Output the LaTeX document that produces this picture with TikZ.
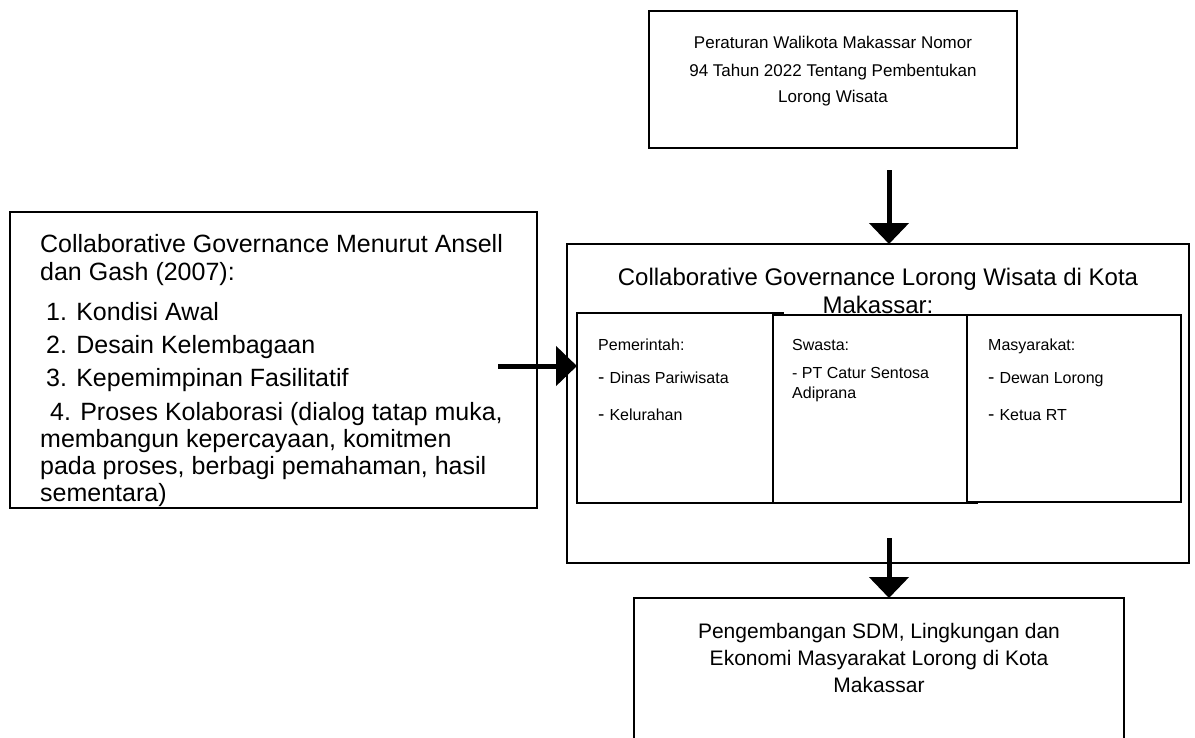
\documentclass[tikz,border=0pt]{standalone}
\usepackage{fontspec}
\setmainfont{Liberation Sans}
\usetikzlibrary{arrows.meta}
\newcommand{\bigdash}{{\fontsize{19}{19}\selectfont -}\hspace{5pt}}
\begin{document}
\begin{tikzpicture}[x=1pt,y=-1pt,
  box/.style={draw,line width=1.6pt,fill=white,inner sep=0pt,outer sep=0pt,anchor=north west},
  big/.style={font=\fontsize{25}{28}\selectfont,inner sep=0pt,anchor=base west},
  bigc/.style={font=\fontsize{24}{28}\selectfont,inner sep=0pt,anchor=base},
  topt/.style={font=\fontsize{17}{20}\selectfont,inner sep=0pt,anchor=base},
  bott/.style={font=\fontsize{21}{24}\selectfont,inner sep=0pt,anchor=base},
  small/.style={font=\fontsize{16}{19}\selectfont,inner sep=0pt,anchor=base west},
  arr/.style={line width=5pt,-{Triangle[length=21pt,width=39pt]}}]
\clip (0,0) rectangle (1195,737);
\fill[white] (0,0) rectangle (1195,737);
% top box
\node[box,minimum width=368pt,minimum height=137pt] (top) at (649,11) {};
\node[topt] (t1) at (833,48) {Peraturan Walikota Makassar Nomor};
\node[topt] (t2) at (833,76) {94 Tahun 2022 Tentang Pembentukan};
\node[topt] (t3) at (833,102) {Lorong Wisata};
% left box
\node[box,minimum width=527pt,minimum height=296pt] (left) at (10,212) {};
\node[big] (l1) at (40,252) {Collaborative Governance Menurut Ansell};
\node[big] (l2) at (40,280) {dan Gash (2007):};
\node[big] (l3) at (46,320) {1. Kondisi Awal};
\node[big] (l4) at (46,353) {2. Desain Kelembagaan};
\node[big] (l5) at (46,386) {3. Kepemimpinan Fasilitatif};
\node[big] (l6) at (50,420) {4. Proses Kolaborasi (dialog tatap muka,};
\node[big] (l7) at (40,447) {membangun kepercayaan, komitmen};
\node[big] (l8) at (40,474) {pada proses, berbagi pemahaman, hasil};
\node[big] (l9) at (40,501) {sementara)};
% middle box
\node[box,minimum width=622pt,minimum height=319pt] (mid) at (567,244) {};
\node[bigc] (m1) at (878,285) {Collaborative Governance Lorong Wisata di Kota};
\node[bigc] (m2) at (878,313) {Makassar:};
\node[box,minimum width=206pt,minimum height=190pt] (sub1) at (577,313) {};
\node[box,minimum width=204pt,minimum height=188pt] (sub2) at (773,315) {};
\node[box,minimum width=214pt,minimum height=187pt] (sub3) at (967,315) {};
\node[small] (p1) at (598,350) {Pemerintah:};
\node[small] (p2) at (598,383) {\bigdash Dinas Pariwisata};
\node[small] (p3) at (598,420) {\bigdash Kelurahan};
\node[small] (s1) at (792,350) {Swasta:};
\node[small] (s2) at (792,378) {- PT Catur Sentosa};
\node[small] (s3) at (792,398) {Adiprana};
\node[small] (q1) at (988,350) {Masyarakat:};
\node[small] (q2) at (988,383) {\bigdash Dewan Lorong};
\node[small] (q3) at (988,420) {\bigdash Ketua RT};
% bottom box
\node[box,minimum width=490pt,minimum height=162pt] (bot) at (634,598) {};
\node[bott] (b1) at (879,638) {Pengembangan SDM, Lingkungan dan};
\node[bott] (b2) at (879,665) {Ekonomi Masyarakat Lorong di Kota};
\node[bott] (b3) at (879,692) {Makassar};
% arrows
\coordinate (ta) at (889,170);
\coordinate (la) at (498,366);
\coordinate (ba) at (889,538);
\draw[arr] (ta) -- (ta |- mid.north);
\draw[arr] (la) -- (la -| sub1.west);
\draw[arr] (ba) -- (ba |- bot.north);
\end{tikzpicture}
\end{document}
